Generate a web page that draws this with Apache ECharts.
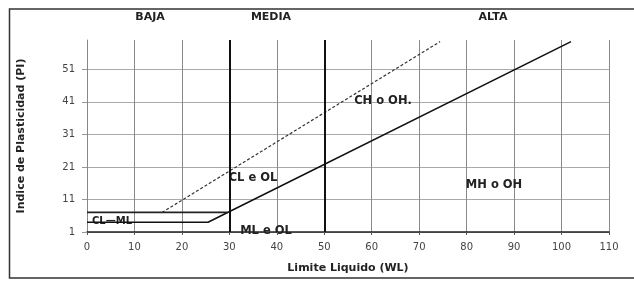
<!DOCTYPE html>
<html><head><meta charset="utf-8">
<script src="https://cdn.jsdelivr.net/npm/echarts@6/dist/echarts.min.js"></script>
<style>html,body{margin:0;padding:0;background:#fff}#c{width:634px;height:281px}</style>
</head><body><div id="c"></div>
<script>
// ---- data ----
const xTickValues = [0,10,20,30,40,50,60,70,80,90,100,110];
const yTickValues = [1,11,21,31,41,51];
const yTickLabels = ['1','11','21','31','41','51'];
const aLine = [[0,4],[25.5,4],[102,59.5]];          // línea A (sólida)
const clmlTop = [[0,7],[29.6,7]];                   // límite superior CL-ML
const uLine = [[15.8,7],[74.4,59.5]];               // línea U (punteada)
const boundaries = [30,50];                         // límites baja/media/alta
const zoneNames = ['BAJA','MEDIA','ALTA'];
const regionNames = ['CH o OH.','CL e OL','MH o OH','ML e OL','CL—ML'];
const xTitle = 'Limite Liquido (WL)';
const yTitle = 'Indice de Plasticidad (PI)';

const font = '"DejaVu Sans", Verdana, sans-serif';
const chart = echarts.init(document.getElementById('c'), null, {renderer:'canvas'});
const txt = (t, x, y, size) => ({type:'text', style:{text:t, x:x, y:y, fill:'#222', font:'bold ' + (size||11) + 'px ' + font, textAlign:'center', textVerticalAlign:'middle'}});

chart.setOption({
  animation:false,
  backgroundColor:'#fff',
  grid:{left:87, right:25, top:40, bottom:49},
  xAxis:{type:'value', min:0, max:110, interval:10,
    axisLine:{lineStyle:{color:'#222', width:1.5}},
    axisTick:{show:true, length:3, lineStyle:{color:'#555'}},
    axisLabel:{color:'#444', fontSize:10, fontFamily:font, margin:10},
    splitLine:{show:true, lineStyle:{color:'#8a8a8a', width:1}},
    name:xTitle, nameLocation:'middle', nameGap:31,
    nameTextStyle:{color:'#222', fontSize:11, fontWeight:'bold', fontFamily:font}},
  yAxis:{type:'value', min:1, max:60,
    axisLine:{show:true, onZero:false, lineStyle:{color:'#888', width:1}},
    axisTick:{show:true, length:5, customValues:yTickValues, lineStyle:{color:'#999'}},
    axisLabel:{color:'#444', fontSize:10, fontFamily:font, margin:12, customValues:yTickValues,
      formatter:(v)=>yTickLabels[yTickValues.indexOf(v)] ?? ''},
    splitLine:{show:true, lineStyle:{color:'#aaa', width:1}},
    name:yTitle, nameLocation:'middle', nameGap:60, nameRotate:90,
    nameTextStyle:{color:'#222', fontSize:11, fontWeight:'bold', fontFamily:font}},
  series:[
    {type:'line', data:aLine, symbol:'none', lineStyle:{color:'#111', width:1.6},
      markLine:{silent:true, symbol:'none', label:{show:false},
        lineStyle:{color:'#111', width:2, type:'solid'},
        data:boundaries.map(v=>({xAxis:v}))}},
    {type:'line', data:clmlTop, symbol:'none', lineStyle:{color:'#222', width:1.8}},
    {type:'line', data:uLine, symbol:'none', lineStyle:{color:'#333', width:1.2, type:[3,2]}}
  ]
});

chart.setOption({graphic:[
  {type:'polyline', shape:{points:[[634,9],[9.5,9],[9.5,278],[634,278]]}, style:{stroke:'#333', lineWidth:1.5, fill:null}},
  txt(zoneNames[0],150,17), txt(zoneNames[1],271,17), txt(zoneNames[2],493,17),
  txt(regionNames[0],383,101,11.5), txt(regionNames[1],253,178,11.5),
  txt(regionNames[2],494,185,11.5), txt(regionNames[3],266,231,11.5),
  txt(regionNames[4],112,221,10)
]});
</script></body></html>
